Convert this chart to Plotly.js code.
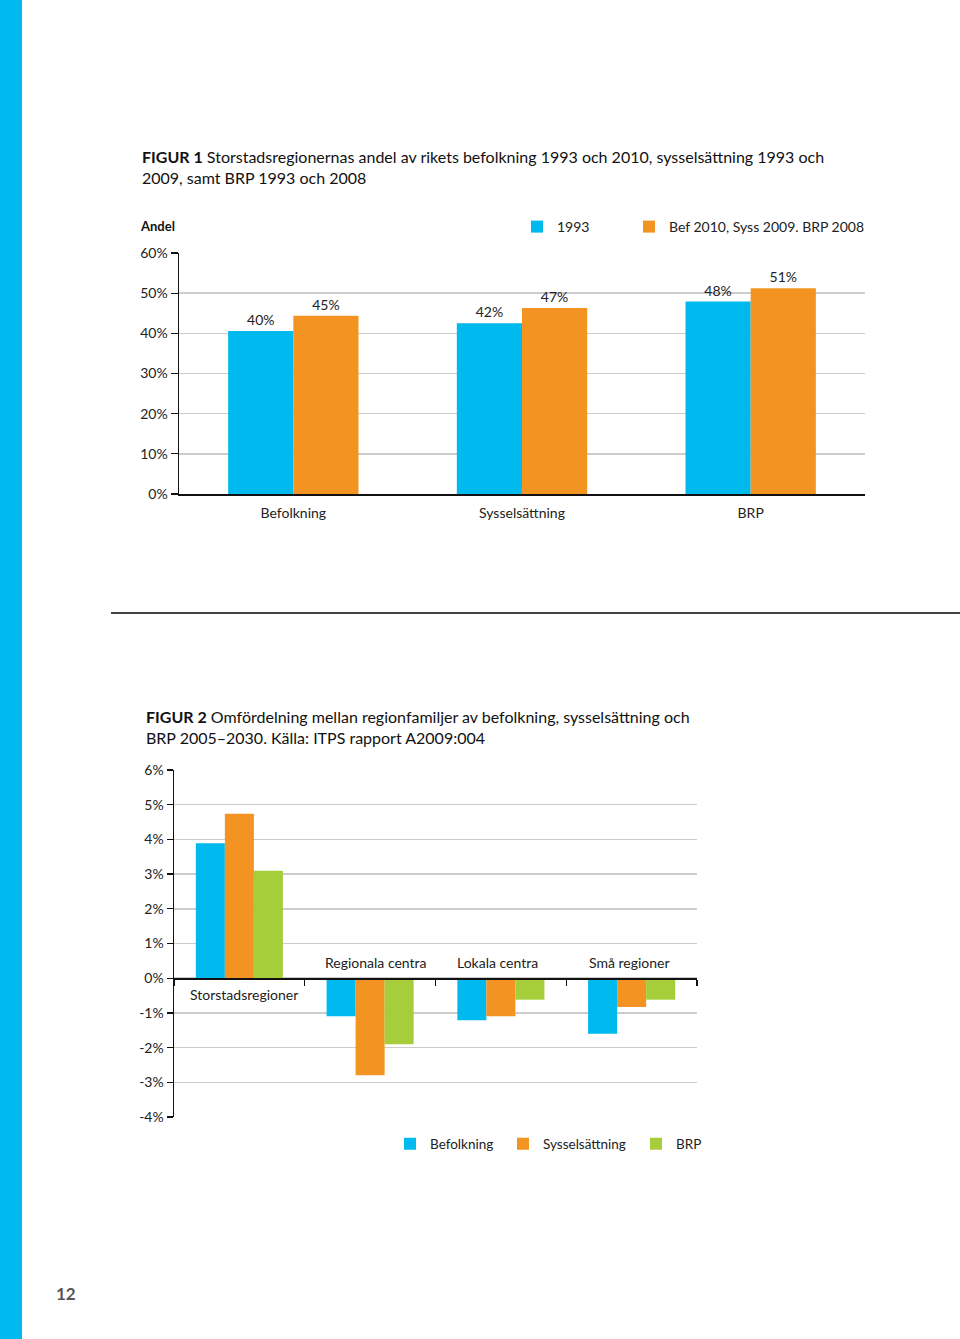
<!DOCTYPE html>
<html><head><meta charset="utf-8">
<script src="https://cdn.plot.ly/plotly-3.0.1.min.js"></script>
<style>html,body{margin:0;padding:0;background:#fff}#chart{width:960px;height:1339px}</style>
</head><body><div id="chart"></div>
<script>
// ---------- Figure 1 data ----------
const fig1Categories = ['Befolkning', 'Sysselsättning', 'BRP'];
const fig1SeriesNames = ['1993', 'Bef 2010, Syss 2009. BRP 2008'];
const fig1Values1993 = [40.6, 42.5, 47.9];
const fig1ValuesLatest = [44.4, 46.3, 51.2];
const fig1Labels1993 = ['40%', '42%', '48%'];
const fig1LabelsLatest = ['45%', '47%', '51%'];
const fig1TickVals = [0, 10, 20, 30, 40, 50, 60];
const fig1TickText = ['0%', '10%', '20%', '30%', '40%', '50%', '60%'];

// ---------- Figure 2 data ----------
const fig2Categories = ['Storstadsregioner', 'Regionala centra', 'Lokala centra', 'Små regioner'];
const fig2SeriesNames = ['Befolkning', 'Sysselsättning', 'BRP'];
const fig2Befolkning = [3.89, -1.10, -1.21, -1.60];
const fig2Sysselsattning = [4.74, -2.80, -1.10, -0.83];
const fig2BRP = [3.10, -1.90, -0.62, -0.62];
const fig2TickVals = [-4, -3, -2, -1, 0, 1, 2, 3, 4, 5, 6];
const fig2TickText = ['-4%', '-3%', '-2%', '-1%', '0%', '1%', '2%', '3%', '4%', '5%', '6%'];

const W = 960, H = 1339;
const px = x => x / W;
const py = y => (H - y) / H;

const CYAN = '#00B9EF', ORANGE = '#F39422', GREEN = '#A6CE3A';
const FONT = 'Lato, "Open Sans", sans-serif';
const TXT = '#222222';

// Figure 2 bars are placed explicitly (bar width / offsets in category units)
const F2W = 0.222;
const f2Offsets = [-1.5 * F2W, -0.5 * F2W, 0.5 * F2W];
const f2LabelShift = [5, 6, -3, -2];

const traces = [
  {type: 'bar', x: fig1Categories, y: fig1Values1993, name: fig1SeriesNames[0],
   marker: {color: CYAN}, text: fig1Labels1993, textposition: 'outside', cliponaxis: false,
   textfont: {family: FONT, size: 14, color: TXT}, xaxis: 'x', yaxis: 'y', legend: 'legend', showlegend: true},
  {type: 'bar', x: fig1Categories, y: fig1ValuesLatest, name: fig1SeriesNames[1],
   marker: {color: ORANGE}, text: fig1LabelsLatest, textposition: 'outside', cliponaxis: false,
   textfont: {family: FONT, size: 14, color: TXT}, xaxis: 'x', yaxis: 'y', legend: 'legend2', showlegend: true},
  {type: 'bar', x: fig2Categories, y: fig2Befolkning, name: fig2SeriesNames[0],
   width: F2W, offset: f2Offsets[0],
   marker: {color: CYAN}, xaxis: 'x2', yaxis: 'y2', legend: 'legend3', showlegend: true},
  {type: 'bar', x: fig2Categories, y: fig2Sysselsattning, name: fig2SeriesNames[1],
   width: F2W, offset: f2Offsets[1],
   marker: {color: ORANGE}, xaxis: 'x2', yaxis: 'y2', legend: 'legend4', showlegend: true},
  {type: 'bar', x: fig2Categories, y: fig2BRP, name: fig2SeriesNames[2],
   width: F2W, offset: f2Offsets[2],
   marker: {color: GREEN}, xaxis: 'x2', yaxis: 'y2', legend: 'legend5', showlegend: true}
];

const y2Dom = [py(1117), py(770)];
const y2Range = [-4, 6];
const zeroPos = y2Dom[0] + (0 - y2Range[0]) / (y2Range[1] - y2Range[0]) * (y2Dom[1] - y2Dom[0]);

function legendAt(x, y, size) {
  return {x: x, y: y, xanchor: 'left', yanchor: 'middle', orientation: 'h',
    bgcolor: 'rgba(0,0,0,0)', borderwidth: 0, font: {family: FONT, size: size, color: TXT},
    itemclick: false, itemdoubleclick: false};
}

const annotations = [
  {xref: 'paper', yref: 'paper', x: px(140), y: py(145), xanchor: 'left', yanchor: 'top', align: 'left',
   showarrow: false, font: {family: FONT, size: 16, color: '#111'},
   text: '<b>FIGUR 1</b> Storstadsregionernas andel av rikets befolkning 1993 och 2010, sysselsättning 1993 och<br>2009, samt BRP 1993 och 2008'},
  {xref: 'paper', yref: 'paper', x: px(138), y: py(226), xanchor: 'left', yanchor: 'middle',
   showarrow: false, font: {family: FONT, size: 13, color: '#111'}, text: '<b>Andel</b>'},
  {xref: 'paper', yref: 'paper', x: px(144), y: py(705), xanchor: 'left', yanchor: 'top', align: 'left',
   showarrow: false, font: {family: FONT, size: 16, color: '#111'},
   text: '<b>FIGUR 2</b> Omfördelning mellan regionfamiljer av befolkning, sysselsättning och<br>BRP 2005–2030. Källa: ITPS rapport A2009:004'},
  {xref: 'paper', yref: 'paper', x: px(66), y: py(1293), xanchor: 'center', yanchor: 'middle',
   showarrow: false, font: {family: FONT, size: 17, color: '#555'}, text: '<b>12</b>'}
];
fig2Categories.forEach((c, i) => {
  const below = i === 0;
  annotations.push({xref: 'x2', yref: 'y2', x: c, y: 0, xanchor: 'center', xshift: f2LabelShift[i],
    yanchor: below ? 'top' : 'bottom', yshift: below ? -6 : 5, showarrow: false,
    font: {family: FONT, size: 14, color: TXT}, text: c});
});

const layout = {
  width: W, height: H, margin: {l: 0, r: 0, t: 0, b: 0},
  paper_bgcolor: '#fff', plot_bgcolor: 'rgba(0,0,0,0)',
  font: {family: FONT, color: TXT},
  showlegend: true,
  barmode: 'group', bargap: 0.43, bargroupgap: 0,
  hovermode: false,
  xaxis: {domain: [px(179), px(865)], anchor: 'y', type: 'category',
    showline: true, linecolor: '#111', linewidth: 1.5, ticks: '', showgrid: false,
    ticklabelstandoff: 6,
    tickfont: {family: FONT, size: 14, color: TXT}, fixedrange: true},
  yaxis: {domain: [py(494), py(253)], anchor: 'x', range: [0, 60],
    tickvals: fig1TickVals, ticktext: fig1TickText,
    showline: true, linecolor: '#111', linewidth: 1.5, ticks: 'outside', ticklen: 7, tickcolor: '#111', tickwidth: 1.2,
    showgrid: true, gridcolor: '#cccccc', gridwidth: 1.5, zeroline: false,
    tickfont: {family: FONT, size: 14, color: TXT}, fixedrange: true},
  xaxis2: {domain: [px(174), px(697)], anchor: 'free', position: zeroPos, type: 'category',
    showline: true, linecolor: '#111', linewidth: 1.5, ticks: 'outside', tickson: 'boundaries',
    ticklen: 6, tickcolor: '#111', tickwidth: 1.2, showticklabels: false, showgrid: false, fixedrange: true},
  yaxis2: {domain: y2Dom, anchor: 'x2', range: y2Range,
    tickvals: fig2TickVals, ticktext: fig2TickText,
    showline: true, linecolor: '#111', linewidth: 1.5, ticks: 'outside', ticklen: 6, tickcolor: '#111', tickwidth: 1.2,
    showgrid: true, gridcolor: '#cccccc', gridwidth: 1.5, zeroline: false,
    tickfont: {family: FONT, size: 14, color: TXT}, fixedrange: true},
  legend: legendAt(px(517), py(227), 14),
  legend2: legendAt(px(629), py(227), 14),
  legend3: legendAt(px(390), py(1144), 13.5),
  legend4: legendAt(px(503), py(1144), 13.5),
  legend5: legendAt(px(636), py(1144), 13.5),
  annotations: annotations,
  shapes: [
    {type: 'rect', xref: 'paper', yref: 'paper', x0: 0, x1: px(22), y0: 0, y1: 1,
     fillcolor: CYAN, line: {width: 0}, layer: 'below'},
    {type: 'line', xref: 'paper', yref: 'paper', x0: px(111), x1: 1, y0: py(613), y1: py(613),
     line: {color: '#444', width: 2}}
  ]
};

Plotly.newPlot('chart', traces, layout, {displayModeBar: false, staticPlot: true});
</script>
</body></html>
